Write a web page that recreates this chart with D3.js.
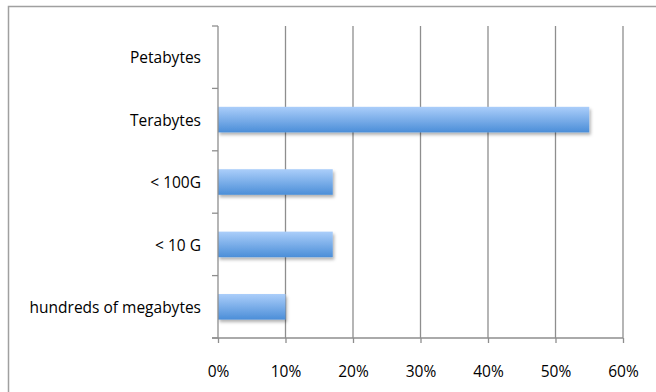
<!DOCTYPE html>
<html>
<head>
<meta charset="utf-8">
<script src="https://cdn.jsdelivr.net/npm/d3@7"></script>
<style>
    body { margin: 0; background: #fff; }
    svg text { font-family: 'Open Sans', sans-serif; fill: #000; }
</style>
</head>
<body>
<script>
(function(){

// DATA

    const categories = ['Petabytes', 'Terabytes', '< 100G', '< 10 G', 'hundreds of megabytes'];
    const shares = [0, 55, 17, 17, 10];
    const xTicks = [0, 10, 20, 30, 40, 50, 60];

// SIZES

    const width = 656,
        height = 392,
        plotLeft = 218,
        plotRight = 623,
        plotTop = 26,
        plotBottom = 338,
        fontSize = '15.5px';

    const svg = d3
        .select('body')
        .append('svg')
        .attr('width', width)
        .attr('height', height);

    // outer chart border, open on the right and bottom edges
    svg.append('rect')
        .attr('x', 8.5)
        .attr('y', 6.5)
        .attr('width', 700)
        .attr('height', 500)
        .attr('fill', 'none')
        .attr('stroke', '#a0a0a0')
        .attr('stroke-width', 1.5);

    const defs = svg.append('defs');

    const grad = defs.append('linearGradient')
        .attr('id', 'barGrad')
        .attr('x1', 0).attr('y1', 0)
        .attr('x2', 0).attr('y2', 1);
    grad.append('stop').attr('offset', '0%').attr('stop-color', '#abcefa');
    grad.append('stop').attr('offset', '100%').attr('stop-color', '#4b8ed8');

    const shadow = defs.append('filter')
        .attr('id', 'barShadow')
        .attr('x', '-10%').attr('y', '-20%')
        .attr('width', '130%').attr('height', '160%');
    shadow.append('feDropShadow')
        .attr('dx', 1.5)
        .attr('dy', 2.5)
        .attr('stdDeviation', 1.8)
        .attr('flood-color', '#000')
        .attr('flood-opacity', 0.3);

// SCALES

    const x = d3.scaleLinear()
        .domain([0, 60])
        .range([plotLeft, plotRight]);

    const y = d3.scaleBand()
        .domain(categories)
        .range([plotTop, plotBottom])
        .paddingInner(0.59)
        .paddingOuter(0.295);

// GRID

    svg.append('g')
        .selectAll('line')
        .data(xTicks.slice(1))
        .enter()
        .append('line')
        .attr('x1', d => x(d))
        .attr('x2', d => x(d))
        .attr('y1', plotTop)
        .attr('y2', plotBottom)
        .attr('stroke', '#8e8e8e')
        .attr('stroke-width', 1.3);

// BARS

    svg.append('g')
        .selectAll('rect')
        .data(categories)
        .enter()
        .filter((d, i) => shares[i] > 0)
        .append('rect')
        .attr('x', x(0))
        .attr('y', d => y(d))
        .attr('width', d => x(shares[categories.indexOf(d)]) - x(0))
        .attr('height', y.bandwidth())
        .attr('fill', 'url(#barGrad)')
        .attr('filter', 'url(#barShadow)');

// AXES

    const xAxis = d3.axisBottom(x)
        .tickValues(xTicks)
        .tickFormat(d => d + '%')
        .tickSize(5)
        .tickPadding(23)
        .tickSizeOuter(0);

    const gx = svg.append('g')
        .attr('transform', 'translate(0,' + plotBottom + ')')
        .call(xAxis);
    gx.select('.domain')
        .attr('d', 'M' + (plotLeft - 6) + ',0H' + plotRight);

    // category boundaries for the y ticks
    const bounds = categories.map(d => y(d) - y.step() * y.paddingInner() / 2).concat([plotBottom]);
    bounds[0] = plotTop;

    const gy = svg.append('g');
    gy.append('line')
        .attr('x1', plotLeft).attr('x2', plotLeft)
        .attr('y1', plotTop).attr('y2', plotBottom);
    gy.selectAll('.ytick')
        .data(bounds)
        .enter()
        .append('line')
        .attr('class', 'ytick')
        .attr('x1', plotLeft - 6).attr('x2', plotLeft)
        .attr('y1', d => d).attr('y2', d => d);
    gy.selectAll('line')
        .attr('stroke', '#8e8e8e')
        .attr('stroke-width', 1.3);

    gy.selectAll('.ylabel')
        .data(categories)
        .enter()
        .append('text')
        .attr('class', 'ylabel')
        .attr('x', plotLeft - 17)
        .attr('y', d => y(d) + y.bandwidth() / 2)
        .attr('dy', '0.4em')
        .attr('text-anchor', 'end')
        .style('font-size', fontSize)
        .text(d => d);

    gx.selectAll('line, path')
        .attr('stroke', '#8e8e8e')
        .attr('stroke-width', 1.3);
    gx.selectAll('text')
        .style('font-size', fontSize)
        .style('font-family', "'Open Sans', sans-serif")
        .attr('fill', '#000');

})();
</script>
</body>
</html>
